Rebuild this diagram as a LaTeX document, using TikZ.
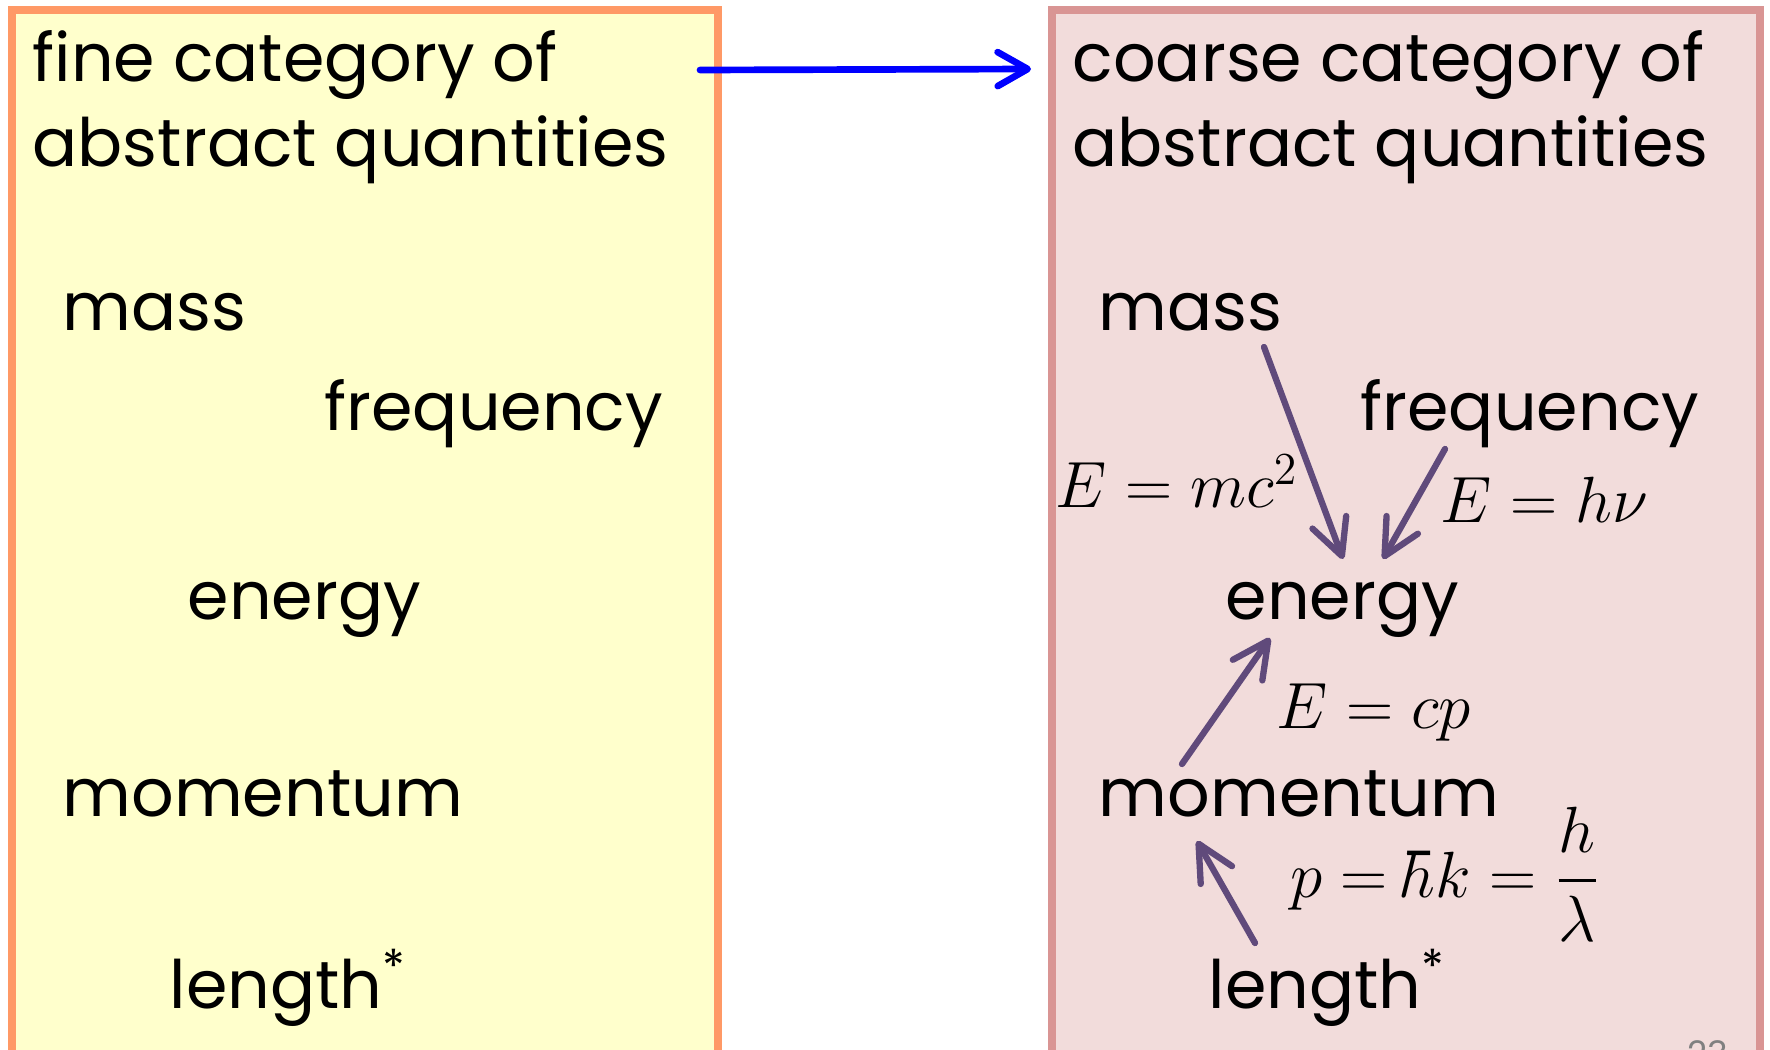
\documentclass[tikz,border=0pt]{standalone}
\usepackage{fix-cm}
\usepackage{amsmath}
\usepackage{fontspec}
\setmainfont{Poppins}
\usetikzlibrary{arrows.meta,calc}
\definecolor{finefill}{RGB}{255,255,204}
\definecolor{fineline}{RGB}{255,153,102}
\definecolor{coarsefill}{RGB}{242,220,219}
\definecolor{coarseline}{RGB}{217,149,148}
\definecolor{linkpurple}{RGB}{96,74,123}

\tikzset{
  word/.style={anchor=base west, inner sep=0pt, font=\fontsize{19}{22}\selectfont},
  formula/.style={anchor=base west, inner sep=0pt, font=\fontsize{18.6}{22}\selectfont},
  link/.style={draw=linkpurple, line width=1.8pt, line cap=round,
    -{Straight Barb[length=3.6mm,width=3.6mm,round]}},
}

\begin{document}
\begin{tikzpicture}[x=0.1mm, y=-0.1mm]
\useasboundingbox (0,0) rectangle (1770,1050);
% the two boxes
\node[draw=fineline, fill=finefill, line width=2pt, outer sep=0pt,
  minimum width=70.6mm, minimum height=105mm] (fine) at (365,535) {};
\node[draw=coarseline, fill=coarsefill, line width=2pt, outer sep=0pt,
  minimum width=70.8mm, minimum height=105mm] (coarse) at (1406,535) {};
\draw[blue, line width=1.9pt, line cap=round, -{Straight Barb[length=3mm,width=3.4mm,round]}]
  ($(fine.north east)+(-18,60)$) -- ($(coarse.north west)+(-21,59)$);

% fine side
\node[word] (ftitle1) at (32,82) {fine category of};
\node[word] (ftitle2) at (32,167) {abstract quantities};
\node[word] (fmass) at (62,331) {mass};
\node[word] (ffreq) at (324,430) {frequency};
\node[word] (fenergy) at (187,619) {energy};
\node[word] (fmom) at (62,816) {momentum};
\node[word] (flength) at (169,1008) {length\textsuperscript{*}};

% coarse side
\node[word] (ctitle1) at (1072,82) {coarse category of};
\node[word] (ctitle2) at (1072,167) {abstract quantities};
\node[word] (cmass) at (1098,331) {mass};
\node[word] (cfreq) at (1360,430) {frequency};
\node[word] (cenergy) at (1225,619) {energy};
\node[word] (cmom) at (1098,816) {momentum};
\node[word] (clength) at (1208,1008) {length\textsuperscript{*}};

\node[formula] (emc) at (1055,508) {$E=mc^2$};
\node[formula] (ehnu) at (1440,523) {$E=h\nu$};
\node[formula] (ecp) at (1276,728) {$E=cp$};
\node[formula] (phk) at (1290,897) {$p=\hbar k=\dfrac{h}{\lambda}$};

\draw[link] ($(cmass.base west)+(166,16)$) -- ($(cenergy.base west)+(118,-60)$);
\draw[link] ($(cfreq.base west)+(85,19)$) -- ($(cenergy.base west)+(158,-60)$);
\draw[link] ($(cmom.base west)+(84,-52)$) -- ($(cenergy.base west)+(45,19)$);
\draw[link] ($(clength.base west)+(47,-65)$) -- ($(cmom.base west)+(99,25)$);

\node[anchor=north west, inner sep=0pt, text=gray, font=\fontsize{10}{12}\selectfont]
  (pagenum) at (1687,1040) {23};
\end{tikzpicture}
\end{document}
